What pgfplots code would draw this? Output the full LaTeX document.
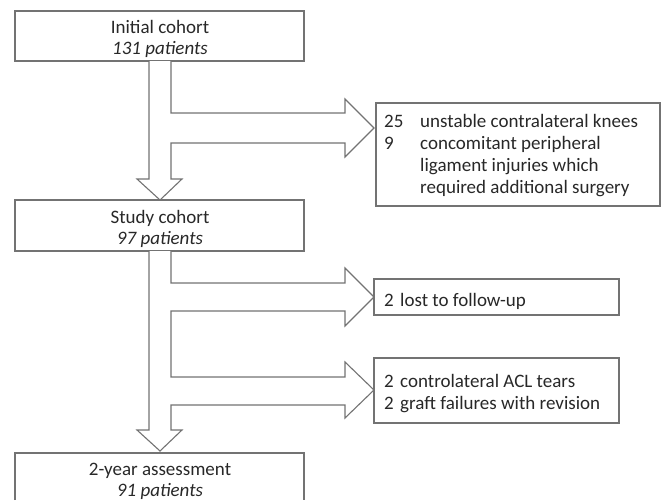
\documentclass[border=0pt]{standalone}
\usepackage{pgfplots}
\pgfplotsset{compat=1.18}
\usepackage{fontspec}
\setmainfont{Carlito}
\definecolor{ln}{RGB}{115,115,115}
\definecolor{tx}{RGB}{40,40,40}
\begin{document}
\begin{tikzpicture}
\begin{axis}[
  width=664pt, height=501pt, scale only axis,
  xmin=0, xmax=664, ymin=0, ymax=501, y dir=reverse,
  axis lines=none, clip=true,
  shp/.style={draw=ln, line width=1.1pt, fill=white, mark=none, line join=miter},
]
% box 1
\addplot[shp] coordinates {(15,11) (304,11) (304,61) (15,61)} -- cycle;
% arrow A
\addplot[shp] coordinates {(149,61) (149,179) (137,179) (160,200) (182,179) (171,179) (171,143) (345,143) (345,157) (374,128) (345,99) (345,113) (171,113) (171,61)};
% box 2 (study cohort)
\addplot[shp] coordinates {(15,200) (304,200) (304,251) (15,251)} -- cycle;
% side box 1
\addplot[shp] coordinates {(376,103) (660,103) (660,206) (376,206)} -- cycle;
% arrow B
\addplot[shp] coordinates {(149,251) (149,430) (137,430) (160,451) (182,430) (171,430) (171,405) (345,405) (345,418) (374,390) (345,362) (345,377) (171,377) (171,311) (345,311) (345,326) (374,297) (345,268) (345,283) (171,283) (171,251)};
% side box 2
\addplot[shp] coordinates {(374,279) (619,279) (619,315) (374,315)} -- cycle;
% side box 3
\addplot[shp] coordinates {(374,358) (619,358) (619,423) (374,423)} -- cycle;
% final box (cut off by the lower edge)
\addplot[shp, fill=none] coordinates {(15,500) (15,453) (304,453) (304,500)};
\end{axis}
\begin{axis}[
  width=664pt, height=501pt, scale only axis,
  xmin=0, xmax=664, ymin=0, ymax=501, y dir=reverse,
  axis lines=none, clip=false,
  nodes={font=\fontsize{19}{22}\selectfont, text=tx, inner sep=0pt},
]
\path (rel axis cs:0,0) rectangle (rel axis cs:1,1);
\node[anchor=mid] at (axis cs:160,31) {Initial cohort};
\node[anchor=mid] at (axis cs:160,52) {\itshape 131 patients};
\node[anchor=mid] at (axis cs:160,221) {Study cohort};
\node[anchor=mid] at (axis cs:160,242) {\itshape 97 patients};
\node[anchor=mid] at (axis cs:160,473) {2-year assessment};
\node[anchor=mid] at (axis cs:160,494) {\itshape 91 patients};
\node[anchor=mid west] at (axis cs:384,125) {25};
\node[anchor=mid west] at (axis cs:384,147) {9};
\node[anchor=mid west] at (axis cs:420,125) {unstable contralateral knees};
\node[anchor=mid west] at (axis cs:420,147) {concomitant peripheral};
\node[anchor=mid west] at (axis cs:420,169) {ligament injuries which};
\node[anchor=mid west] at (axis cs:420,191) {required additional surgery};
\node[anchor=mid west] at (axis cs:384,304) {2};
\node[anchor=mid west] at (axis cs:400,304) {lost to follow-up};
\node[anchor=mid west] at (axis cs:384,385) {2};
\node[anchor=mid west] at (axis cs:400,385) {controlateral ACL tears};
\node[anchor=mid west] at (axis cs:384,407) {2};
\node[anchor=mid west] at (axis cs:400,407) {graft failures with revision};
\end{axis}
\end{tikzpicture}
\end{document}
